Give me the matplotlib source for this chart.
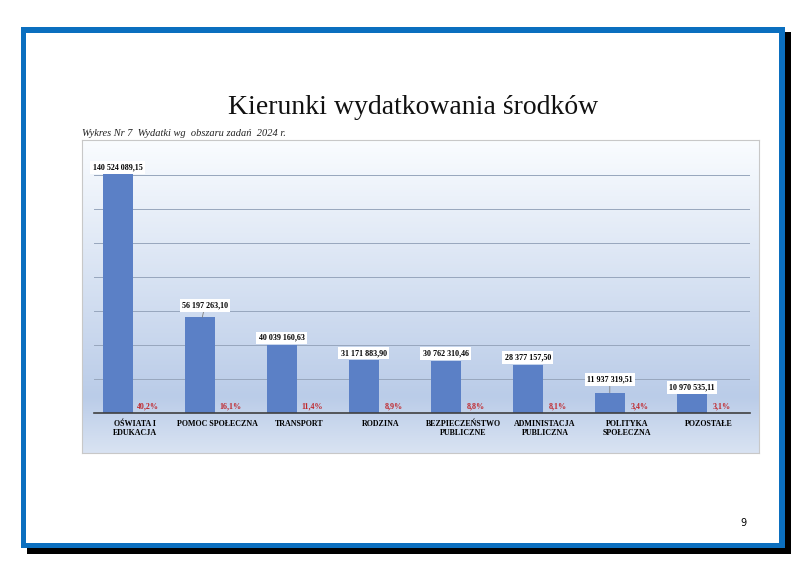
import numpy as np
import matplotlib
matplotlib.use("Agg")
import matplotlib.pyplot as plt
from matplotlib.patches import Rectangle

# dane
categories = ["OŚWIATA I\nEDUKACJA", "POMOC SPOŁECZNA", "TRANSPORT", "RODZINA",
              "BEZPIECZEŃSTWO\nPUBLICZNE", "ADMINISTACJA\nPUBLICZNA",
              "POLITYKA\nSPOŁECZNA", "POZOSTAŁE"]
values = [140524089.15, 56197263.10, 40039160.63, 31171883.90,
          30762310.46, 28377157.50, 11937319.51, 10970535.11]
value_labels = ["140 524 089,15", "56 197 263,10", "40 039 160,63", "31 171 883,90",
                "30 762 310,46", "28 377 157,50", "11 937 319,51", "10 970 535,11"]
shares = ["40,2%", "16,1%", "11,4%", "8,9%", "8,8%", "8,1%", "3,4%", "3,1%"]

W, H = 812, 575
plt.rcParams['font.family'] = ['Liberation Serif', 'DejaVu Serif']

fig = plt.figure(figsize=(W / 100, H / 100), dpi=100)
fig.patch.set_facecolor("white")

def fax(x0, y0, x1, y1):
    # pixel box (from top-left) -> figure axes
    return fig.add_axes([x0 / W, 1 - y1 / H, (x1 - x0) / W, (y1 - y0) / H])

# ramka strony
page = fax(0, 0, W, H)
page.set_xlim(0, W); page.set_ylim(H, 0); page.axis("off")
page.add_patch(Rectangle((27, 548), 764, 6, color="black", lw=0))
page.add_patch(Rectangle((785, 32), 6, 522, color="black", lw=0))
blue = "#0b6fbf"
page.add_patch(Rectangle((21, 27), 764, 5.5, color=blue, lw=0))
page.add_patch(Rectangle((21, 542.5), 764, 5.5, color=blue, lw=0))
page.add_patch(Rectangle((21, 27), 5.5, 521, color=blue, lw=0))
page.add_patch(Rectangle((779.5, 27), 5.5, 521, color=blue, lw=0))
page.text(413, 108, "Kierunki wydatkowania środków", fontsize=20,
          ha="center", va="center", color="#111111")
page.text(82, 133, "Wykres Nr 7  Wydatki wg  obszaru zadań  2024 r.", fontsize=7.5,
          style="italic", ha="left", va="center", color="#222222")
page.text(743, 523, "9", fontsize=7, family="DejaVu Sans", ha="center", va="center")

# tło wykresu z gradientem
bg = fax(82, 140, 759, 453)
t = np.linspace(0, 1, 256)
stops_t = [0.0, 0.82, 1.0]
stops_c = np.array([[0.98, 0.99, 1.0], [0.73, 0.80, 0.91], [0.85, 0.89, 0.95]])
img = np.stack([np.interp(t, stops_t, stops_c[:, k]) for k in range(3)], axis=1)[:, None, :]
bg.imshow(img, aspect="auto", extent=(0, 1, 0, 1), origin="upper")
bg.set_xticks([]); bg.set_yticks([])
for s in bg.spines.values():
    s.set_color("#c8c8c8"); s.set_linewidth(0.8)

# wykres
ax = fax(94, 141, 750, 413)
ax.patch.set_alpha(0)
n = len(values)
x = np.arange(n)
ax.set_xlim(-0.5, n - 0.5)
ax.set_ylim(0, 160e6)
for g in np.arange(20e6, 141e6, 20e6):
    ax.axhline(g, color="#97a6bd", lw=0.7, zorder=1)
ax.bar(x - 0.21, values, width=0.36, color="#5b80c6", zorder=2)
for s in ["top", "right", "left"]:
    ax.spines[s].set_visible(False)
ax.spines["bottom"].set_color("#404040"); ax.spines["bottom"].set_linewidth(1.2)
ax.set_yticks([])
ax.set_xticks(x)
ax.set_xticklabels(categories, fontsize=5.8, fontweight="bold", linespacing=1.15)
ax.tick_params(axis="x", length=0, pad=5)

# etykiety wartości
offsets = {1: 12, 6: 13}
for i, (v, lab) in enumerate(zip(values, value_labels)):
    dy = offsets.get(i, 7) * 0.72
    ax.annotate(lab, (x[i] - 0.21 + (0.03 if i == 1 else 0), v), xytext=(0 if i != 1 else 2, dy),
                textcoords="offset points", ha="center", va="center",
                fontsize=5.8, fontweight="bold",
                bbox=dict(boxstyle="square,pad=0.3", fc="white", ec="none"),
                arrowprops=dict(arrowstyle="-", color="#7f7f7f", lw=0.6,
                                shrinkA=0, shrinkB=0) if i in offsets else None,
                zorder=4)
    ax.annotate(shares[i], (x[i] + 0.16, 0), xytext=(0, 7 * 0.72),
                textcoords="offset points", ha="center", va="center",
                fontsize=5.8, fontweight="bold", color="#c0282d", zorder=4)

fig.savefig("out.png", dpi=100)
